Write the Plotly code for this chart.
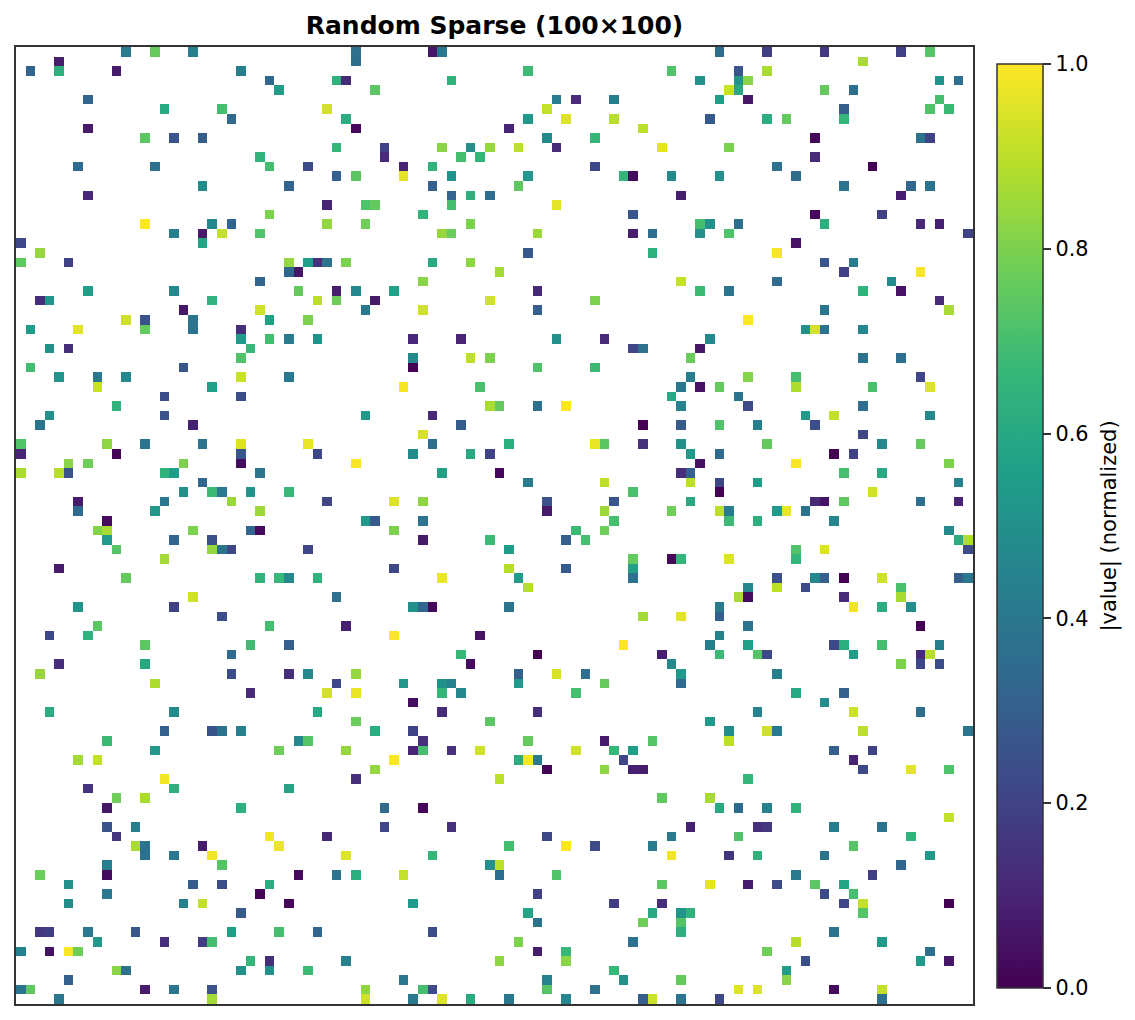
"""Random sparse matrix drawn as a heatmap of normalized magnitudes."""

import numpy as np
import plotly.graph_objects as go

N = 100

# filled columns of each matrix row
row_cols = [
    [11, 14, 18, 35, 43, 44, 73, 78, 84, 92, 95],
    [4, 35, 88],
    [1, 4, 10, 23, 53, 68, 75, 78],
    [26, 33, 34, 45, 71, 75, 76, 96, 98],
    [27, 37, 74, 75, 84, 87],
    [7, 56, 58, 62, 73, 76, 96],
    [15, 21, 32, 55, 86, 95, 97],
    [22, 34, 53, 57, 62, 72, 78, 80, 86],
    [7, 35, 51, 65],
    [13, 16, 19, 55, 60, 83, 94, 95],
    [33, 38, 44, 47, 49, 52, 56, 67, 74],
    [25, 38, 46, 48, 83],
    [6, 14, 26, 30, 40, 43, 60, 79, 89],
    [33, 35, 40, 45, 53, 63, 64, 68, 73, 81],
    [19, 28, 43, 52, 86, 93, 95],
    [7, 45, 47, 49, 69, 92],
    [32, 36, 37, 45, 56],
    [26, 42, 64, 83, 90],
    [13, 20, 22, 32, 36, 47, 71, 72, 75, 84, 94, 96],
    [16, 19, 21, 25, 44, 45, 54, 64, 66, 71, 74, 99],
    [0, 19, 81],
    [2, 53, 66, 79],
    [0, 5, 28, 30, 31, 32, 34, 43, 47, 84, 87],
    [28, 29, 50, 86, 94],
    [25, 42, 69, 79, 91],
    [7, 16, 29, 33, 35, 39, 54, 71, 74, 88, 92],
    [2, 3, 20, 31, 33, 37, 49, 60, 96],
    [17, 25, 36, 42, 54, 84, 97],
    [11, 13, 18, 26, 30, 76],
    [1, 6, 13, 18, 23, 82, 83, 84, 88],
    [23, 26, 28, 31, 41, 46, 56, 61, 72],
    [3, 5, 24, 64, 65, 71],
    [23, 41, 47, 49, 70, 88, 92],
    [1, 17, 41, 54, 60],
    [4, 8, 11, 23, 28, 70, 76, 81, 94],
    [8, 20, 40, 48, 69, 71, 73, 81, 89, 95],
    [15, 23, 68, 75],
    [10, 49, 50, 54, 57, 69, 76, 88],
    [3, 15, 36, 43, 82, 85, 95],
    [2, 18, 46, 65, 69, 73, 77, 83],
    [42, 88],
    [0, 9, 13, 19, 23, 30, 43, 51, 60, 61, 65, 69, 78, 90, 94],
    [0, 10, 23, 31, 41, 47, 49, 70, 73, 85, 87],
    [5, 7, 17, 23, 35, 71, 81, 97],
    [0, 4, 5, 15, 16, 25, 44, 50, 69, 70, 86, 90],
    [19, 53, 61, 70, 73, 77, 98],
    [17, 20, 21, 24, 28, 64, 73, 89],
    [6, 15, 22, 32, 39, 42, 55, 62, 70, 83, 84, 86, 94, 98],
    [6, 14, 25, 55, 61, 68, 73, 74, 79, 80, 82],
    [9, 36, 37, 42, 62, 74, 77, 85],
    [8, 9, 18, 24, 25, 39, 58, 61, 97],
    [9, 16, 20, 42, 49, 57, 59, 98, 99],
    [10, 20, 21, 22, 30, 51, 81, 84, 99],
    [15, 64, 68, 69, 74, 81],
    [4, 39, 51, 57, 64],
    [11, 25, 27, 28, 31, 44, 52, 64, 79, 83, 84, 86, 90, 98, 99],
    [53, 76, 79, 82, 92],
    [18, 33, 75, 76, 86, 92],
    [6, 16, 41, 42, 43, 51, 73, 87, 90, 93],
    [21, 65, 69, 73],
    [8, 26, 34, 76, 94],
    [3, 7, 39, 48, 73],
    [13, 24, 28, 63, 72, 76, 85, 86, 90, 96],
    [22, 46, 54, 67, 73, 77, 78, 87, 94, 95],
    [4, 13, 47, 68, 92, 94, 96],
    [2, 22, 28, 30, 35, 52, 56, 59, 69, 79],
    [14, 33, 40, 44, 45, 52, 61, 69],
    [24, 32, 35, 44, 46, 58, 81, 86],
    [41, 84],
    [3, 16, 31, 44, 54, 77, 87, 94],
    [35, 49, 72],
    [15, 20, 21, 23, 37, 41, 74, 78, 79, 88, 99],
    [9, 29, 30, 42, 53, 61, 66, 74],
    [14, 27, 34, 41, 42, 45, 48, 58, 62, 64, 85, 89],
    [6, 8, 39, 52, 53, 54, 63, 87],
    [37, 55, 61, 64, 65, 88, 93, 97],
    [15, 35, 50, 76],
    [7, 16, 28],
    [10, 13, 67, 72],
    [9, 23, 38, 42, 73, 75, 78, 81],
    [97],
    [9, 12, 38, 45, 70, 77, 78, 85, 90],
    [10, 26, 32, 55, 68, 75, 93],
    [12, 13, 19, 27, 51, 57, 60, 66, 87],
    [13, 16, 20, 34, 43, 68, 74, 77, 84, 95],
    [9, 21, 49, 50, 92],
    [2, 9, 29, 33, 35, 40, 50, 56, 81, 89],
    [5, 18, 21, 26, 67, 72, 76, 79, 83, 86],
    [9, 25, 54, 84, 87],
    [5, 17, 19, 28, 41, 62, 67, 86, 88, 97],
    [23, 53, 66, 69, 70, 88],
    [54, 65, 69],
    [2, 3, 7, 12, 22, 27, 31, 43, 69, 85],
    [8, 15, 19, 20, 52, 64, 81, 90],
    [0, 3, 5, 6, 54, 57, 78, 95],
    [24, 26, 34, 50, 57, 82, 94, 97],
    [10, 11, 23, 26, 30, 62, 80],
    [5, 40, 55, 63, 69, 80],
    [0, 1, 13, 16, 20, 36, 42, 43, 55, 60, 75, 77, 85, 90],
    [4, 20, 36, 41, 44, 47, 51, 57, 65, 66, 69, 73, 90],
]

# normalized |value| of those cells, estimated from the colour
row_vals = [
    [.42, .76, .43, .37, .06, .4, .36, .19, .16, .19, .73],
    [.08, .36, .87],
    [.32, .63, .07, .43, .68, .72, .27, .87],
    [.33, .64, .12, .65, .5, .52, .82, .52, .36],
    [.55, .74, .92, .6, .76, .36],
    [.32, .42, .12, .43, .55, .06, .7],
    [.61, .7, .94, .91, .29, .72, .68],
    [.34, .62, .53, .95, .89, .28, .62, .76, .66],
    [.07, .02, .1, .9],
    [.74, .27, .29, .48, .66, .02, .38, .2],
    [.66, .2, .82, .5, .84, .9, .12, .96, .8],
    [.65, .12, .7, .66, .12],
    [.34, .37, .7, .23, .1, .65, .22, .37, 0],
    [.32, .74, .96, .52, .53, .66, .03, .48, .5, .35],
    [.48, .32, .3, .75, .38, .33, .38],
    [.11, .32, .63, .36, .08, .08],
    [.1, .72, .76, .7, .96],
    [.8, .65, .27, .02, .2],
    [1, .47, .33, .84, .78, .8, .7, .5, .36, .63, .12, .09],
    [.43, .07, .91, .72, .84, .77, .85, .08, .36, .5, .72, .2],
    [.22, .58, .05],
    [.84, .28, .63, .99],
    [.75, .2, .84, .56, .14, .38, .8, .6, .83, .27, .42],
    [.33, .06, .86, .2, .99],
    [.32, .82, .91, .35, .48],
    [.56, .47, .76, .08, .47, .57, .11, .68, .38, .65, .05],
    [.13, .52, .64, .9, .78, .07, .93, .8, .12],
    [.06, .93, .41, .93, .3, .4, .87],
    [.93, .25, .38, .57, .8, 1],
    [.55, .96, .76, .38, .13, .5, .94, .38, .46],
    [.54, .7, .42, .52, .11, .1, .5, .12, .47],
    [.5, .13, .67, .21, .37, .06],
    [.72, .47, .9, .8, .77, .38, .36],
    [.69, .27, 0, .72, .68],
    [.52, .4, .47, .92, .4, .43, .81, .7, .21],
    [.92, .56, .99, .71, .4, .05, .76, .88, .71, .95],
    [.24, .24, .6, .38],
    [.65, .87, .76, .37, 1, .45, .23, .36],
    [.5, .26, .53, .11, .54, .91, .47],
    [.38, .09, .29, 0, .29, .72, .43, .24],
    [.94, .22],
    [.72, .83, .38, .38, .95, .97, .36, .62, .97, .74, .14, .5, .76, .47, .76],
    [.1, .01, .27, .22, .48, .6, .21, .54, .34, 0, .2],
    [.82, .78, .8, .03, .99, .05, .99, .8],
    [.87, .89, .26, .65, .55, .38, .57, .02, .13, .3, .7, .6],
    [.33, .42, .9, .9, .22, .55, .45],
    [.5, .68, .41, .52, .67, .71, 0, .93],
    [.07, .4, .85, .21, .95, .83, .26, .27, .6, .12, .05, .75, .36, .1],
    [.34, .53, .85, .07, .85, .78, .9, .42, .54, .97, .38],
    [.03, .53, .28, .39, .7, .68, .63, .46],
    [.81, .87, .8, .33, .03, .8, .68, .78, .47],
    [.54, .33, .25, .07, .68, .3, .7, .62, .88],
    [.73, .84, .38, .22, .21, .55, .72, .95, .23],
    [.86, .76, .02, .66, .95, .66],
    [.07, .22, .89, .28, .57],
    [.76, .65, .67, .47, .65, .97, .55, .37, .25, .47, .3, 0, .93, .29, .4],
    [.89, .46, .9, .23, .71],
    [.93, .37, .87, .03, .12, .87],
    [.52, .2, .5, .33, .02, .38, .42, .98, .62, .49],
    [.24, .86, .96, .3],
    [.74, .7, .09, .38, 0],
    [.22, .64, 1, .05, .45],
    [.74, .69, .3, 1, .43, .56, .22, .62, .7, .43],
    [.34, .67, 0, .09, .68, .73, .22, .55, .12, .89],
    [.13, .6, .03, .47, .8, .22, .24],
    [.84, .24, .13, .47, .84, .3, .94, .36, .53, .43],
    [.88, .22, .53, .5, .45, .54, .76, .34],
    [.12, .94, .97, .66, .47, .7, .6, .31],
    [.04, .49],
    [.62, .48, .6, .12, .13, .45, .92, .36],
    [.77, .74, .54],
    [.3, .26, .38, .43, .62, .2, .49, .93, .41, .9, .39],
    [.68, .47, .73, .14, .76, .07, .73, .9],
    [.53, .78, .84, .1, .7, .14, .93, .93, .67, .56, .3, .2],
    [.86, .91, 1, .62, .99, .42, .22, .1],
    [.84, .01, .83, .09, .08, .22, .96, .72],
    [.98, .13, .9, .66],
    [.15, .63, .58],
    [.78, .87, .75, .87],
    [.06, .63, .34, .02, .6, .34, .44, .65],
    [.91],
    [.26, .43, .21, .14, .09, .13, .16, .43, .38],
    [.16, .98, .11, .22, .42, .72, .65],
    [.87, .38, .07, .97, .7, 1, .23, .42, .73],
    [.37, .41, .98, .95, .66, .98, .15, .65, .38, .54],
    [.43, .73, .5, .9, .33],
    [.77, .03, .03, .38, .62, .91, .36, .72, .4, .19],
    [.5, .29, .24, .62, .74, .96, .07, .23, .74, .58],
    [.41, .01, .2, .24, .7],
    [.49, .44, .91, .02, .54, .18, .13, .22, .91, 0],
    [.29, .58, .6, .52, .65, .73],
    [.38, .78, .73],
    [.17, .19, .41, .28, .56, .7, .33, .24, .63, .39],
    [.53, .13, .18, .7, .8, .37, .89, .54],
    [.44, .05, .99, .78, .08, .67, .78, .36],
    [.66, .13, .44, .83, .82, .24, .54, .06],
    [.82, .37, .5, .5, .68, .67, .55],
    [.31, .39, .44, .5, .76, .82],
    [.38, .75, .07, .39, .26, .83, .7, .23, .73, .37, .95, .95, .03, .91],
    [.4, .86, .93, .41, .95, .61, .4, .46, .3, .92, .39, .22, .37],
]

colorbar_ticks = [0.0, 0.2, 0.4, 0.6, 0.8, 1.0]

matrix = np.full((N, N), np.nan)
for r, (cols, vals) in enumerate(zip(row_cols, row_vals, strict=True)):
    matrix[r, cols] = vals

fig = go.Figure(
    go.Heatmap(
        z=matrix,
        zmin=0,
        zmax=1,
        colorscale="Viridis",
        hoverongaps=False,
        colorbar=dict(
            title=dict(text="|value| (normalized)", side="right", font=dict(size=21, color="black")),
            thicknessmode="pixels",
            thickness=46,
            lenmode="pixels",
            len=924,
            x=1.0251,
            xanchor="left",
            y=0.4995,
            yanchor="middle",
            xpad=0,
            ypad=0,
            outlinecolor="#333333",
            outlinewidth=1.5,
            tickmode="array",
            tickvals=colorbar_ticks,
            # trailing nbsp pushes the colorbar title out to where it sits in the original
            ticktext=[f"{t:.1f}\u00a0" for t in colorbar_ticks],
            ticks="outside",
            ticklen=8,
            tickwidth=1.5,
            tickcolor="#333333",
            tickfont=dict(size=20.8, color="black"),
        ),
    )
)

# the page body keeps its 8px left margin; the right margin can be used up without a scrollbar
fig.update_layout(
    width=1127,
    height=1004,
    margin=dict(l=8, r=162, t=39, b=8),
    paper_bgcolor="white",
    plot_bgcolor="white",
    font=dict(family="DejaVu Sans"),
    title=dict(
        text="<b>Random Sparse (100×100)</b>",
        font=dict(size=25, color="black"),
        x=486.5 / 1127,
        xanchor="center",
        y=1 - 17 / 1004,
        yanchor="middle",
    ),
)
fig.update_xaxes(
    range=[-0.5, N - 0.5],
    showticklabels=False,
    ticks="",
    showgrid=False,
    zeroline=False,
    showline=True,
    mirror=True,
    linecolor="#333333",
    linewidth=2,
)
fig.update_yaxes(
    range=[N - 0.5, -0.5],
    showticklabels=False,
    ticks="",
    showgrid=False,
    zeroline=False,
    showline=True,
    mirror=True,
    linecolor="#333333",
    linewidth=2,
)

fig.write_html("out.html")
